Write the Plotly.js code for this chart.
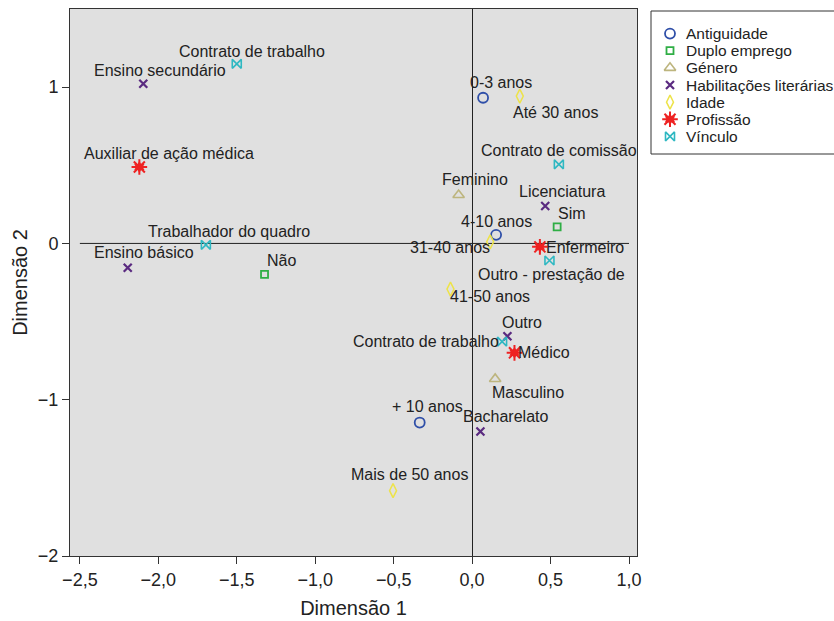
<!DOCTYPE html>
<html>
<head>
<meta charset="utf-8">
<script src="https://cdn.plot.ly/plotly-3.0.1.min.js"></script>
<style>html,body{margin:0;padding:0;background:#fff;}#chart{width:834px;height:621px;}</style>
</head>
<body>
<div id="chart"></div>
<script>
// ---- Data ----
const groups = ["Antiguidade", "Duplo emprego", "Género", "Habilitações literárias", "Idade", "Profissão", "Vínculo"];

const antiguidadeLabels = ["0-3 anos", "4-10 anos", "+ 10 anos"];
const antiguidadeX = [0.07, 0.153, -0.334];
const antiguidadeY = [0.932, 0.055, -1.146];

const duploLabels = ["Sim", "Não"];
const duploX = [0.542, -1.323];
const duploY = [0.106, -0.198];

const generoLabels = ["Feminino", "Masculino"];
const generoX = [-0.086, 0.147];
const generoY = [0.31, -0.867];

const habLabels = ["Ensino secundário", "Ensino básico", "Licenciatura", "Outro", "Bacharelato"];
const habX = [-2.096, -2.195, 0.466, 0.225, 0.053];
const habY = [1.022, -0.156, 0.24, -0.594, -1.203];

const idadeLabels = ["Até 30 anos", "31-40 anos", "41-50 anos", "Mais de 50 anos"];
const idadeX = [0.304, 0.115, -0.138, -0.504];
const idadeY = [0.943, 0.01, -0.292, -1.582];

const profLabels = ["Auxiliar de ação médica", "Enfermeiro", "Médico"];
const profX = [-2.121, 0.432, 0.27];
const profY = [0.489, -0.022, -0.70];

const vinculoLabels = ["Contrato de trabalho", "Trabalhador do quadro", "Contrato de comissão", "Outro - prestação de", "Contrato de trabalho"];
const vinculoX = [-1.50, -1.697, 0.553, 0.493, 0.191];
const vinculoY = [1.149, -0.009, 0.506, -0.109, -0.628];

const xTickVals = [-2.5, -2.0, -1.5, -1.0, -0.5, 0.0, 0.5, 1.0];
const yTickVals = [-2, -1, 0, 1];

// ---- Label placement (pixel offsets of each text from its point) ----
const antiguidadeOff = [[18, 15], [0, 13], [8, 16]];
const duploOff = [[15, 13], [17, 14]];
const generoOff = [[16, 15], [33, -14]];
const habOff = [[17, 13], [16, 15], [17, 14], [15, 14], [25, 15]];
const idadeOff = [[36, -16], [-40, -6], [40, -7], [16, 16]];
const profOff = [[30, 14], [45, -1], [30, 0]];
const vinculoOff = [[15, 12], [23, 13], [0, 14], [2, -14], [-76, 0]];

// ---- Styles ----
const styles = [
  {symbol: "circle-open", size: 10, color: "#2f4fa8", lw: 1.8},
  {symbol: "square-open", size: 7, color: "#2fae45", lw: 1.8},
  {symbol: "triangle-up-open", size: 10, color: "#bdb57e", lw: 1.6},
  {symbol: "x-thin-open", size: 8, color: "#5a2a80", lw: 2.2},
  {symbol: "diamond-tall-open", size: 10, color: "#ede34a", lw: 1.5},
  {symbol: "asterisk-open", size: 13, color: "#ee2222", lw: 2},
  {symbol: "bowtie-open", size: 9, color: "#2fb8c2", lw: 1.6}
];

const sets = [
  [antiguidadeLabels, antiguidadeX, antiguidadeY, antiguidadeOff],
  [duploLabels, duploX, duploY, duploOff],
  [generoLabels, generoX, generoY, generoOff],
  [habLabels, habX, habY, habOff],
  [idadeLabels, idadeX, idadeY, idadeOff],
  [profLabels, profX, profY, profOff],
  [vinculoLabels, vinculoX, vinculoY, vinculoOff]
];

const traces = [];
const annotations = [];
const labelFont = {family: "Liberation Sans, Arial, sans-serif", size: 16, color: "#222"};

sets.forEach((s, gi) => {
  const st = styles[gi];
  traces.push({
    type: "scatter", mode: "markers", name: groups[gi],
    x: s[1], y: s[2], showlegend: false, hoverinfo: "skip",
    marker: {symbol: st.symbol, size: st.size, color: st.color, line: {color: st.color, width: st.lw}}
  });
  if (gi === 5) {
    traces.push({
      type: "scatter", mode: "markers", x: s[1], y: s[2], showlegend: false, hoverinfo: "skip",
      marker: {symbol: "hexagram", size: 9, color: st.color, line: {width: 0}}
    });
  }
  s[0].forEach((lab, i) => {
    annotations.push({
      x: s[1][i], y: s[2][i], xref: "x", yref: "y", text: lab, showarrow: false,
      xanchor: "center", yanchor: "middle", xshift: s[3][i][0], yshift: s[3][i][1],
      font: labelFont
    });
  });
  // custom legend entry
  traces.push({
    type: "scatter", mode: "markers", x: [0], y: [gi], xaxis: "x2", yaxis: "y2",
    showlegend: false, hoverinfo: "skip",
    marker: {symbol: st.symbol, size: st.size, color: st.color, line: {color: st.color, width: st.lw}}
  });
  if (gi === 5) {
    traces.push({
      type: "scatter", mode: "markers", x: [0], y: [gi], xaxis: "x2", yaxis: "y2",
      showlegend: false, hoverinfo: "skip",
      marker: {symbol: "hexagram", size: 9, color: st.color, line: {width: 0}}
    });
  }
  annotations.push({
    x: 0, y: gi, xref: "x2", yref: "y2", text: groups[gi], showarrow: false,
    xanchor: "left", yanchor: "middle", xshift: 14,
    font: {family: "Liberation Sans, Arial, sans-serif", size: 15.5, color: "#222"}
  });
});

const tickFont = {family: "Liberation Sans, Arial, sans-serif", size: 18, color: "#222"};
const titleFont = {family: "Liberation Sans, Arial, sans-serif", size: 20, color: "#222"};

const layout = {
  width: 834, height: 621,
  margin: {l: 70, r: 0, t: 9, b: 65},
  paper_bgcolor: "#ffffff",
  plot_bgcolor: "#ffffff",
  separators: ",.",
  showlegend: false,
  xaxis: {
    domain: [0, 567 / 764],
    range: [-2.563, 1.051],
    tickvals: xTickVals, tickformat: ".1f",
    ticks: "outside", ticklen: 7, tickcolor: "#333", tickwidth: 1,
    showline: true, mirror: true, linecolor: "#333", linewidth: 1,
    showgrid: false, zeroline: true, zerolinecolor: "#222", zerolinewidth: 1,
    tickfont: tickFont,
    title: {text: "Dimensão 1", font: titleFont, standoff: 12}
  },
  yaxis: {
    range: [-2.0, 1.5],
    tickvals: yTickVals, tickformat: "d",
    ticks: "outside", ticklen: 7, tickcolor: "#333", tickwidth: 1,
    showline: true, mirror: true, linecolor: "#333", linewidth: 1,
    showgrid: false, zeroline: false,
    tickfont: tickFont,
    title: {text: "Dimensão 2", font: titleFont, standoff: 4}
  },
  xaxis2: {domain: [(660 - 70) / 764, 1], range: [-1, 16.4], visible: false, anchor: "y2", fixedrange: true},
  yaxis2: {domain: [(556 - 145) / 547, (556 - 25) / 547], range: [6.5, -0.5], visible: false, anchor: "x2", fixedrange: true},
  shapes: [
    {type: "rect", xref: "x domain", yref: "y domain", x0: 0, x1: 1, y0: 0, y1: 1,
     line: {width: 0}, fillcolor: "#e0e0e0", layer: "below"},
    {type: "line", xref: "x", yref: "y", x0: -2.5, x1: 1.0, y0: 0, y1: 0, line: {color: "#222", width: 1}, layer: "below"},
    {type: "rect", xref: "paper", yref: "paper", x0: (651 - 70) / 764, x1: 1.01, y0: (556 - 154) / 547, y1: (556 - 11) / 547,
     line: {color: "#333", width: 1}, fillcolor: "rgba(0,0,0,0)"}
  ],
  annotations: annotations
};

Plotly.newPlot("chart", traces, layout, {staticPlot: true, displayModeBar: false});
</script>
</body>
</html>
